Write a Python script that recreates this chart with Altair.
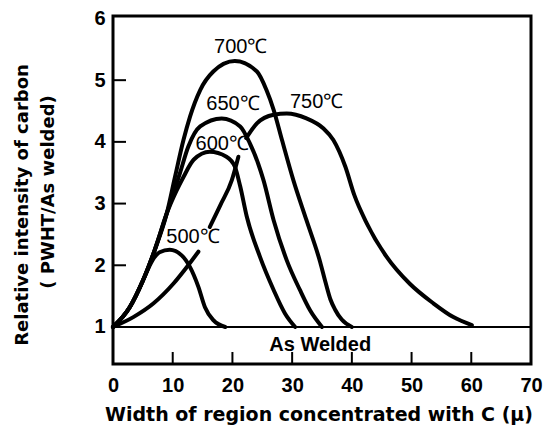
import altair as alt
import pandas as pd

# ---- data ----
x500 = [0, 2.8, 5.0, 6.6, 7.8, 9.5, 11.5, 12.9, 14.3, 15.4, 16.8, 18.8]
y500 = [1.0, 1.32, 1.75, 2.08, 2.21, 2.25, 2.16, 1.97, 1.65, 1.32, 1.11, 1.0]

x600 = [0, 2.8, 5.0, 7.0, 9.0, 10.6, 11.8, 13.5, 16.2, 19.0, 20.4, 21.3, 22.4, 24.6, 26.9, 28.8, 30.5]
y600 = [1.0, 1.32, 1.75, 2.25, 2.84, 3.2, 3.43, 3.71, 3.84, 3.76, 3.60, 3.28, 2.79, 2.14, 1.60, 1.22, 1.0]

x650 = [0, 2.8, 5.0, 7.0, 9.0, 11.2, 12.6, 14.6, 18.2, 21.3, 22.9, 24.3, 25.2, 26.9, 29.1, 31.3, 33.0, 35.0]
y650 = [1.0, 1.32, 1.75, 2.25, 2.84, 3.49, 3.92, 4.25, 4.38, 4.25, 3.98, 3.65, 3.38, 2.73, 2.08, 1.60, 1.27, 1.0]

x700 = [0, 2.8, 5.0, 7.0, 9.0, 10.4, 11.8, 12.9, 14.6, 16.8, 20.4, 24.1, 25.7, 26.9, 28.3, 30.2, 32.4, 34.7, 35.6, 36.4, 37.2, 38.3, 40.0]
y700 = [1.0, 1.32, 1.75, 2.25, 2.84, 3.44, 4.03, 4.41, 4.84, 5.14, 5.31, 5.14, 4.84, 4.52, 4.03, 3.38, 2.73, 2.05, 1.72, 1.45, 1.28, 1.12, 1.0]

# 750 C curve is interrupted where it passes behind the labels
x750a = [0, 3.4, 6.75, 10.1, 12.6, 14.3]
y750a = [1.0, 1.16, 1.38, 1.70, 2.0, 2.22]
x750b = [16.2, 18.0, 19.9, 21.0]
y750b = [2.62, 2.98, 3.38, 3.76]
x750c = [22.3, 24.1, 26.9, 29.1, 32.4, 35.2, 36.9, 38.9, 40.4, 42.5, 45.8, 49.7, 53.7, 57.0, 60.1]
y750c = [4.06, 4.30, 4.44, 4.46, 4.38, 4.22, 4.03, 3.60, 3.14, 2.68, 2.14, 1.70, 1.38, 1.16, 1.03]

label_text = ["700℃", "650℃", "600℃", "750℃", "500℃"]
label_x = [21.4, 20.1, 18.3, 34.1, 13.4]
label_y = [5.53, 4.61, 3.96, 4.65, 2.46]

x_tick_values = [0, 10, 20, 30, 40, 50, 60, 70]
y_tick_values = [1, 2, 3, 4, 5, 6]
x_inner_ticks = [10, 20, 30, 40, 50, 60]
y_inner_ticks = [2, 3, 4, 5]

# ---- tables ----
rows = []
for seg, xs, ys in [("500", x500, y500), ("600", x600, y600), ("650", x650, y650),
                    ("700", x700, y700), ("750a", x750a, y750a), ("750b", x750b, y750b),
                    ("750c", x750c, y750c)]:
    for i, (xv, yv) in enumerate(zip(xs, ys)):
        rows.append({"seg": seg, "x": xv, "y": yv, "i": i})
curves = pd.DataFrame(rows)
labels = pd.DataFrame({"x": label_x, "y": label_y, "t": label_text})

W, H = 418, 348
XS = alt.Scale(domain=[0, 70], nice=False, zero=False)
YS = alt.Scale(domain=[0.4, 6.04], nice=False, zero=False)
NUMFONT = "Liberation Sans"

xaxis = alt.Axis(values=x_tick_values, ticks=False, domain=False, grid=False, format="d",
                 labelFont=NUMFONT, labelFontSize=20, labelFontWeight="bold",
                 labelColor="black", labelPadding=11, labelFlush=False, title=None)
yaxis = alt.Axis(values=y_tick_values, ticks=False, domain=False, grid=False, format="d",
                 labelFont=NUMFONT, labelFontSize=20, labelFontWeight="bold",
                 labelColor="black", labelPadding=8, title=None)

lines = alt.Chart(curves).mark_line(color="black", strokeWidth=4, interpolate="monotone",
                                    strokeCap="round").encode(
    x=alt.X("x:Q", scale=XS, axis=xaxis),
    y=alt.Y("y:Q", scale=YS, axis=yaxis),
    detail="seg:N",
    order="i:Q",
)

base1 = alt.Chart(pd.DataFrame({"y": [1]})).mark_rule(color="black", strokeWidth=2).encode(
    y=alt.Y("y:Q", scale=YS), x=alt.value(0), x2=alt.value(W))

xt = alt.Chart(pd.DataFrame({"x": x_inner_ticks})).mark_rule(color="black", strokeWidth=2).encode(
    x=alt.X("x:Q", scale=XS), y=alt.value(H), y2=alt.value(H - 12))
yt = alt.Chart(pd.DataFrame({"y": y_inner_ticks})).mark_rule(color="black", strokeWidth=2).encode(
    y=alt.Y("y:Q", scale=YS), x=alt.value(0), x2=alt.value(13))

txt = alt.Chart(labels).mark_text(fontSize=20, font="Liberation Sans", color="black").encode(
    x=alt.X("x:Q", scale=XS), y=alt.Y("y:Q", scale=YS), text="t:N")

aw = alt.Chart(pd.DataFrame({"x": [34.7], "y": [0.70], "t": ["As Welded"]})).mark_text(
    fontSize=20, font="Liberation Sans", fontWeight="bold", color="black").encode(
    x=alt.X("x:Q", scale=XS), y=alt.Y("y:Q", scale=YS), text="t:N")

TFONT = "DejaVu Sans"
xtitle = alt.Chart(pd.DataFrame({"t": ["Width of region concentrated with C (μ)"]})).mark_text(
    fontSize=19, font=TFONT, fontWeight="bold", color="black").encode(
    text="t:N", x=alt.value(206), y=alt.value(399))
ytitle1 = alt.Chart(pd.DataFrame({"t": ["Relative intensity of carbon"]})).mark_text(
    fontSize=18, font=TFONT, fontWeight="bold", color="black", angle=270).encode(
    text="t:N", x=alt.value(-90), y=alt.value(189))
ytitle2 = alt.Chart(pd.DataFrame({"t": ["( PWHT/As welded)"]})).mark_text(
    fontSize=18, font=TFONT, fontWeight="bold", color="black", angle=270).encode(
    text="t:N", x=alt.value(-64), y=alt.value(176))

chart = alt.layer(base1, xt, yt, lines, txt, aw, xtitle, ytitle1, ytitle2).properties(
    width=W, height=H,
    autosize=alt.AutoSizeParams(type="none"),
    padding={"left": 113, "top": 16, "right": 15, "bottom": 66},
).configure_view(stroke="black", strokeWidth=3)

chart.save("out.html", embed_options={"renderer": "svg", "actions": False})
